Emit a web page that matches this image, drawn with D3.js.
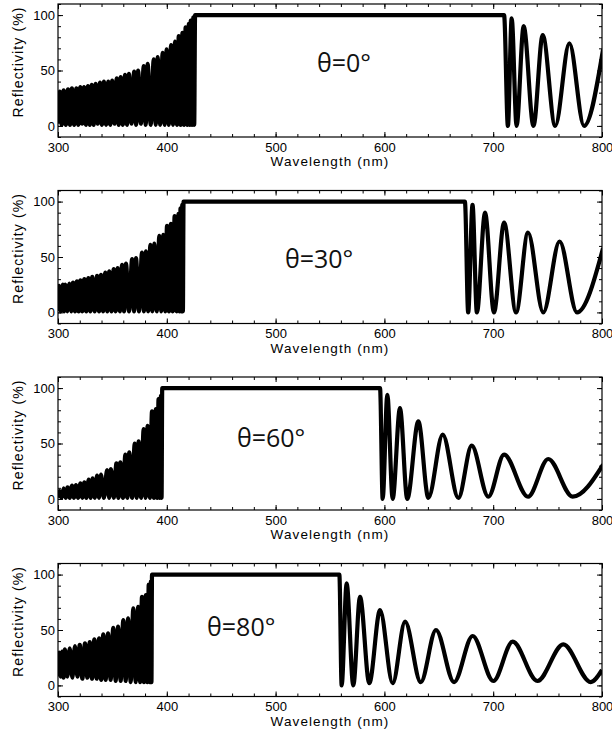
<!DOCTYPE html>
<html><head><meta charset="utf-8">
<script src="https://cdn.jsdelivr.net/npm/d3@7"></script>
<style>body{margin:0;background:#fff}</style>
</head><body><svg id="c" width="612" height="733"></svg>
<script>
// ---------- DATA ----------
const xTickLabels = [300, 400, 500, 600, 700, 800];
const yTickLabels = [0, 50, 100];
const angleLabels = ["θ=0°", "θ=30°", "θ=60°", "θ=80°"];
const xTitle = "Wavelength (nm)";
const yTitle = "Reflectivity (%)";

// θ = 0°
const wl0 = [300,
  301.6, 303.4, 305.2, 307.2,
  309.2, 311, 312.8, 314.85,
  316.9, 318.7, 320.5, 322.2,
  323.9, 325.7, 327.5, 329.25,
  331, 332.8, 334.6, 336.6,
  338.6, 340.4, 342.2, 344.2,
  346.2, 348, 349.8, 351.9,
  354, 355.8, 357.6, 359.6,
  361.6, 363.4, 365.2, 367.6,
  370, 371.8, 373.6, 376.2,
  378.8, 380.6, 382.4, 385.2,
  388, 389.8, 391.6, 393.9,
  396.2, 398, 399.8, 401.85,
  403.9, 405.7, 407.5, 409.25,
  411, 412.7, 414.4, 415.85,
  417.3, 418.8, 420.3, 421.15,
  422, 423.2, 424.4, 425.2,
  426, 710, 713.5, 717, 721.5, 728, 737, 745.5, 757, 770, 783.5, 801];
const r0 = [2,
  31, 1, 32, 1,
  33, 1, 34, 1,
  34, 1, 35, 2,
  35, 1, 36, 1,
  37, 1, 38, 2,
  39, 1, 40, 1,
  40, 1, 41, 2,
  43, 1, 44, 1,
  46, 1, 47, 2,
  49, 1, 50, 2,
  54, 1, 56, 1,
  60, 1, 62, 1,
  66, 1, 69, 1,
  73, 1, 76, 1,
  81, 1, 84, 1,
  89, 1, 92, 1,
  95, 1, 98, 1,
  100, 100, 0, 97, 0, 90, 0, 82, 0, 74.5, 0, 69];

// θ = 30°
const wl1 = [300,
  301.0, 302.6, 304.3, 305.55,
  306.8, 308.6, 310.4, 312.1,
  313.8, 315.6, 317.4, 319.0,
  320.6, 322.4, 324.2, 326.05,
  327.9, 329.7, 331.5, 333.7,
  335.9, 337.7, 339.5, 341.5,
  343.5, 345.3, 347.1, 349.15,
  351.2, 353, 354.8, 356.85,
  358.9, 360.7, 362.5, 365.3,
  368.1, 369.9, 371.7, 374.45,
  377.2, 379, 380.8, 382.85,
  384.9, 386.7, 388.5, 390.8,
  393.1, 394.9, 396.7, 398.45,
  400.2, 402, 403.8, 405.5,
  407.2, 409, 410.8, 411.7,
  412.6, 413.4, 414.2, 414.8,
  415.4, 674, 677, 681, 685, 692.5, 700.7, 710, 721, 732, 746, 761, 777, 801];
const r1 = [1,
  24, 1, 25, 1,
  25, 1, 26, 1,
  27, 1, 28, 1,
  29, 1, 30, 1,
  31, 1, 32, 1,
  33, 1, 34, 1,
  36, 1, 37, 1,
  39, 1, 40, 1,
  43, 1, 44, 1,
  48, 1, 49, 1,
  54, 1, 55, 1,
  61, 1, 62, 1,
  69, 1, 70, 1,
  78, 1, 80, 1,
  87, 1, 89, 1,
  94, 1, 97, 1,
  100, 100, 0, 97, 0, 90, 0, 81, 0, 72, 0, 64, 0, 58];

// θ = 60°
const wl2 = [300, 301.5, 303.3, 305.2, 307, 308.8, 310.8,
  312.9, 314.7, 316.5, 318.55,
  320.6, 322.4, 324.2, 326.1,
  328.2, 330, 331.8, 333.85,
  335.9, 337.7, 339.5, 342.2,
  345.1, 346.9, 348.7, 351.2,
  353.7, 355.5, 357.3, 359.7,
  361.9, 363.7, 365.5, 368.1,
  370.5, 372.3, 374.1, 376.4,
  378.7, 380.5, 382.3, 384.4,
  386.4, 388.2, 390, 391.2,
  392.4, 393.5, 394.6, 395.2,
  395.8, 596, 598.4, 602.7, 607.6, 614.3, 621, 631.2, 640.4, 653.6, 668, 680.2, 695.5, 710, 732, 750.6, 773, 801];
const r2 = [1, 7, 1, 9.5, 1, 10.5, 1,
  12, 1, 12.5, 1,
  14, 1, 15, 1,
  17.5, 1, 18.5, 1,
  21, 1, 22, 1,
  26, 1, 27, 1,
  32, 1, 33, 1,
  40, 1, 42, 1,
  50, 1, 52, 1,
  63, 1, 66, 1,
  79, 1, 81, 1,
  90, 1, 93, 1,
  100, 100, 0, 94, 0, 82, 0, 70, 1, 58, 1, 48, 2, 40, 2, 36, 2, 31];

// θ = 80°
const wl3 = [300, 301.0, 302.4, 303.8, 305.1,
  306.4, 308.6, 310.8, 313.2,
  315.6, 317.8, 320.0, 322.4,
  324.8, 327, 329.2, 331.3,
  333.4, 335.6, 337.8, 339.7,
  341.6, 343.8, 346, 348.4,
  350.8, 353, 355.2, 357.6,
  360, 362.2, 364.4, 366.8,
  369.2, 371.4, 373.6, 375.4,
  377.2, 379, 380.8, 382.1,
  383.4, 384.4, 385.4, 385.9,
  386.4, 558.6, 560.7, 565.3, 571.4, 577.6, 586.1, 596, 607.6, 619, 633.4, 647.4, 664, 681.1, 700.1, 717.9, 740.6, 764.4, 789.6, 800];
const r3 = [8, 29.5, 8, 30.5, 7,
  32.5, 8, 33.5, 7,
  35.5, 8, 36.5, 6,
  38, 7, 39, 6,
  41.5, 6, 42.5, 5,
  46, 5, 47, 5,
  52, 4, 53, 4,
  59, 4, 60.5, 3,
  69.5, 3, 71, 3,
  80, 3, 81.5, 3,
  91, 3, 94, 3,
  100, 100, 0, 92, 0, 80, 2, 68, 2, 57.5, 3, 50, 3, 44.6, 4, 39.5, 4, 37, 3, 14];

const seriesWl = [wl0, wl1, wl2, wl3];
const seriesR = [r0, r1, r2, r3];

// ---------- LAYOUT ----------
const left = 58, right = 602, ph = 133;
const panelTops = [4, 190.5, 377, 563.5];
const labelLayout = [{wl: 538, dy: 68}, {wl: 508.6, dy: 77}, {wl: 464.5, dy: 70}, {wl: 437, dy: 72}];
const FONT = "'Liberation Sans', Arial, sans-serif";

const svg = d3.select("#c");
const x = d3.scaleLinear().domain([300, 800]).range([left, right]);
const xMinor = d3.range(300, 801, 20);
const yMinor = d3.range(-10, 111, 10);

seriesWl.forEach((wl, i) => {
  const top = panelTops[i];
  const y = d3.scaleLinear().domain([-10, 110]).range([top + ph, top]);
  const g = svg.append("g");
  const data = wl.map((w, k) => [w, seriesR[i][k]]);

  const clipId = "clip" + i;
  svg.append("clipPath").attr("id", clipId).append("rect")
    .attr("x", left).attr("y", top).attr("width", right - left).attr("height", ph);

  const line = d3.line().x(d => x(d[0])).y(d => y(d[1])).curve(d3.curveMonotoneX);
  g.append("path").datum(data)
    .attr("clip-path", `url(#${clipId})`)
    .attr("d", line)
    .attr("fill", "none").attr("stroke", "#000")
    .attr("stroke-width", 4.2).attr("stroke-linejoin", "round");

  // frame
  g.append("rect").attr("x", left).attr("y", top).attr("width", right - left).attr("height", ph)
    .attr("fill", "none").attr("stroke", "#000").attr("stroke-width", 1.2);

  const noDomain = s => s.select(".domain").remove();
  // bottom axis
  g.append("g").attr("transform", `translate(0,${top + ph})`)
    .call(d3.axisBottom(x).tickValues(xMinor).tickSizeInner(-3).tickSizeOuter(0).tickFormat(""))
    .call(noDomain);
  const xb = g.append("g").attr("transform", `translate(0,${top + ph})`)
    .call(d3.axisBottom(x).tickValues(xTickLabels).tickSizeInner(-5).tickSizeOuter(0).tickPadding(5.5).tickFormat(d3.format("d")))
    .call(noDomain);
  // top axis
  g.append("g").attr("transform", `translate(0,${top})`)
    .call(d3.axisTop(x).tickValues(xMinor).tickSizeInner(-3).tickSizeOuter(0).tickFormat(""))
    .call(noDomain);
  g.append("g").attr("transform", `translate(0,${top})`)
    .call(d3.axisTop(x).tickValues(xTickLabels).tickSizeInner(-5).tickSizeOuter(0).tickFormat(""))
    .call(noDomain);
  // left axis
  g.append("g").attr("transform", `translate(${left},0)`)
    .call(d3.axisLeft(y).tickValues(yMinor).tickSizeInner(-3).tickSizeOuter(0).tickFormat(""))
    .call(noDomain);
  const yl = g.append("g").attr("transform", `translate(${left},0)`)
    .call(d3.axisLeft(y).tickValues(yTickLabels).tickSizeInner(-5).tickSizeOuter(0).tickPadding(3).tickFormat(d3.format("d")))
    .call(noDomain);
  // right axis
  g.append("g").attr("transform", `translate(${right},0)`)
    .call(d3.axisRight(y).tickValues(yMinor).tickSizeInner(-3).tickSizeOuter(0).tickFormat(""))
    .call(noDomain);
  g.append("g").attr("transform", `translate(${right},0)`)
    .call(d3.axisRight(y).tickValues(yTickLabels).tickSizeInner(-5).tickSizeOuter(0).tickFormat(""))
    .call(noDomain);

  [xb, yl].forEach(a => a.selectAll("text").attr("font-family", FONT).attr("font-size", 13).attr("fill", "#000"));
  g.selectAll(".tick line").attr("stroke", "#000");

  // titles
  g.append("text").attr("x", (left + right) / 2).attr("y", top + ph + 29)
    .attr("text-anchor", "middle").attr("font-family", FONT).attr("font-size", 13.5)
    .attr("letter-spacing", 1.1).text(xTitle);
  g.append("text").attr("transform", `translate(23,${top + 58}) rotate(-90)`)
    .attr("text-anchor", "middle").attr("font-family", FONT).attr("font-size", 14)
    .attr("letter-spacing", 1.1).text(yTitle);

  // angle label
  g.append("text").attr("x", x(labelLayout[i].wl)).attr("y", top + labelLayout[i].dy)
    .attr("font-family", "'Open Sans', 'Noto Sans', sans-serif").attr("font-size", 25)
    .attr("fill", "#111").text(angleLabels[i]);
});
</script>
</body></html>
